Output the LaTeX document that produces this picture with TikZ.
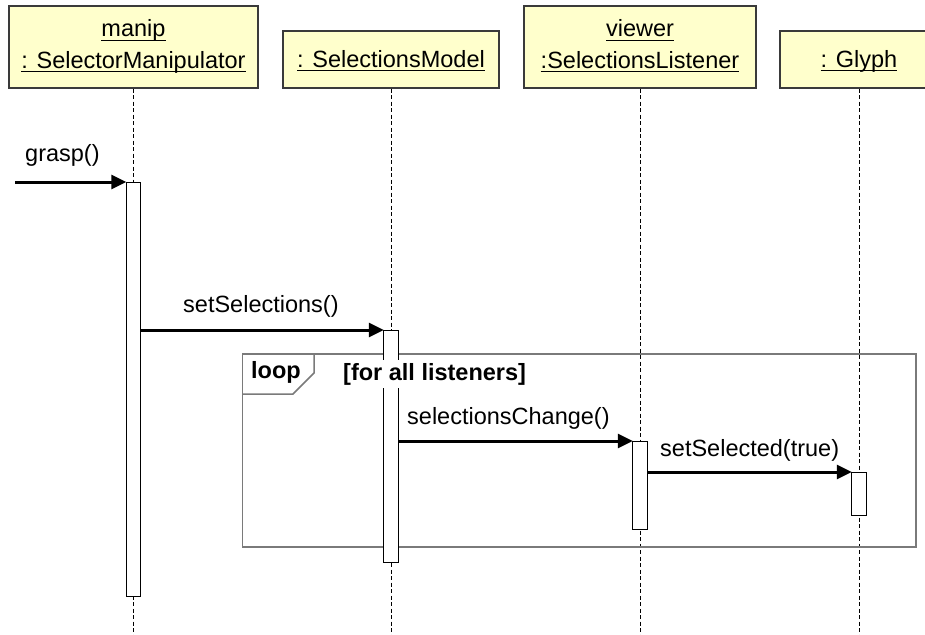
\documentclass[tikz,border=0pt]{standalone}
\usepackage{fontspec}
\setmainfont{Liberation Sans}
\usetikzlibrary{arrows.meta}

\definecolor{hdrfill}{HTML}{FFFFCC}
\definecolor{hdrline}{HTML}{3A3A3A}
\definecolor{framegray}{HTML}{7A7A7A}

% underline at a fixed depth below the baseline
\newcommand\ulab[1]{\setbox0\hbox{#1}\rlap{\rule[-4pt]{\wd0}{1.4pt}}\box0}

\tikzset{
  hdrbox/.style={draw=hdrline, line width=1.2pt, fill=hdrfill, inner sep=0pt},
  hdrtext/.style={anchor=base, inner sep=0pt},
  lifeline/.style={draw=black, line width=1pt, dash pattern=on 4pt off 2.5pt},
  actbar/.style={draw=black, line width=1pt, fill=white, inner sep=0pt, minimum width=14.5pt},
  msg/.style={line width=3pt, -{Triangle[length=15pt,width=14pt]}, shorten >=-0.5pt},
  msgtext/.style={anchor=base west, inner sep=0pt},
  loopframe/.style={draw=framegray, line width=1.5pt},
}

\begin{document}
\begin{tikzpicture}[x=1pt, y=-1pt, font=\fontsize{23.5}{28}\selectfont]
\clip (0,0) rectangle (925,634);
\fill[white] (0,0) rectangle (925,634);
\coordinate (bottom) at (0,640);

% object headers
\node[hdrbox, minimum width=249pt, minimum height=82pt] (hdrM) at (133.5,47) {};
\node[hdrbox, minimum width=216pt, minimum height=57pt] (hdrS) at (391,59.5) {};
\node[hdrbox, minimum width=232pt, minimum height=82pt] (hdrV) at (640,47) {};
\node[hdrbox, minimum width=158pt, minimum height=57pt] (hdrG) at (859,59.5) {};

\node[hdrtext] (tM1) at (133.5,37) {\ulab{manip}};
\node[hdrtext] (tM2) at (133.5,68) {\ulab{: SelectorManipulator}};
\node[hdrtext] (tS) at (391,67) {\ulab{: SelectionsModel}};
\node[hdrtext] (tV1) at (640,37) {\ulab{viewer}};
\node[hdrtext] (tV2) at (640,68) {\ulab{:SelectionsListener}};
\node[hdrtext] (tG) at (859,67) {\ulab{: Glyph}};

% lifelines
\draw[lifeline] (hdrM.south) -- (hdrM.south |- bottom);
\draw[lifeline] (hdrS.south) -- (hdrS.south |- bottom);
\draw[lifeline] (hdrV.south) -- (hdrV.south |- bottom);
\draw[lifeline] (hdrG.south) -- (hdrG.south |- bottom);

% loop combined fragment
\draw[loopframe] (242.5,354) rectangle (916,547);
\draw[loopframe] (242.5,394) -- (293,394) -- (314,373) -- (314,354);
\node[anchor=base west, inner sep=0pt, font=\fontsize{23.5}{28}\selectfont\bfseries] (loopkw) at (251,378) {loop};

% activation bars
\node[actbar, minimum height=414pt, anchor=north] (actM) at (133.5,182) {};
\node[actbar, minimum height=232pt, anchor=north] (actS) at (391,330) {};
\node[actbar, minimum height=88pt, anchor=north] (actV) at (640,441) {};
\node[actbar, minimum height=43pt, anchor=north] (actG) at (859,472) {};

% guard over the bar
\node[anchor=base west, fill=white, inner xsep=1pt, inner ysep=3pt, font=\fontsize{23.5}{28}\selectfont\bfseries] (guard) at (342,380) {[for all listeners]};

% messages
\coordinate (graspStart) at (15,182);
\draw[msg] (graspStart) -- (actM.north west);
\node[msgtext] (lgrasp) at (25,161) {grasp()};

\draw[msg] (actM.east |- actS.north west) -- (actS.north west);
\node[msgtext] (lsetsel) at (183,312) {setSelections()};

\draw[msg] (actS.east |- actV.north west) -- (actV.north west);
\node[msgtext] (lchange) at (407,424) {selectionsChange()};

\draw[msg] (actV.east |- actG.north west) -- (actG.north west);
\node[msgtext] (lselected) at (660,456) {setSelected(true)};
\end{tikzpicture}
\end{document}
